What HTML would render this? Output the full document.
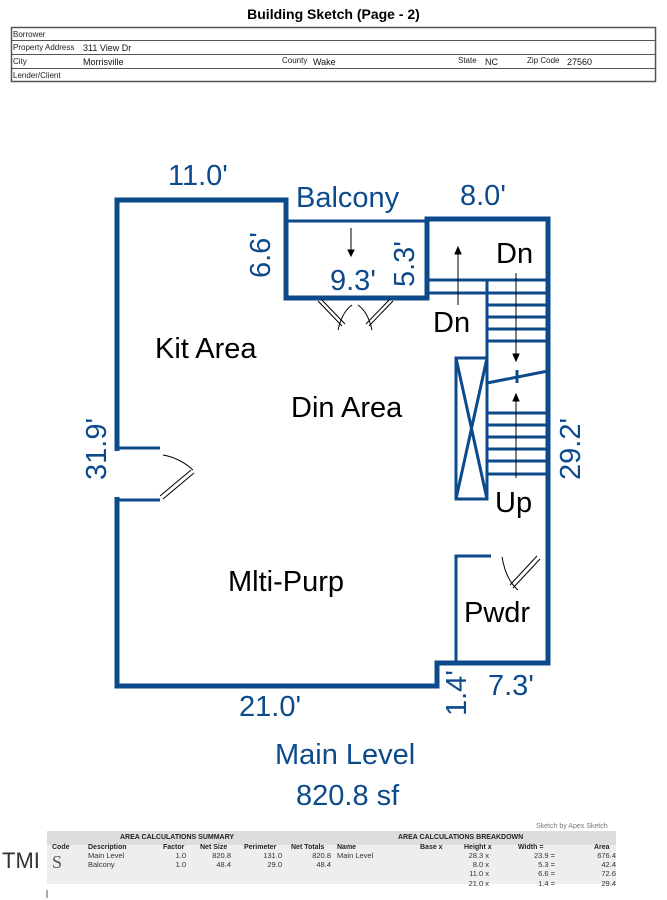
<!DOCTYPE html>
<html><head><style>
body{margin:0;width:667px;height:900px;background:#fff;position:relative;overflow:hidden;font-family:"Liberation Sans",sans-serif}
.t{position:absolute;white-space:nowrap}
</style></head><body>
<div class="t" style="left:0;width:667px;text-align:center;top:6px;font-weight:bold;font-size:14px;font-family:'Liberation Sans Narrow','Liberation Sans',sans-serif">Building Sketch (Page - 2)</div>
<svg width="667" height="900" style="position:absolute;left:0;top:0" font-family="Liberation Sans, sans-serif">
<rect x="11.5" y="27.5" width="644" height="54" fill="none" stroke="#555" stroke-width="1.5"/>
<g stroke="#555" stroke-width="1"><line x1="11" y1="40.5" x2="655" y2="40.5"/><line x1="11" y1="54.5" x2="655" y2="54.5"/><line x1="11" y1="68.5" x2="655" y2="68.5"/></g>
<g font-size="8" fill="#222"><text x="13" y="37">Borrower</text><text x="13" y="50">Property Address</text><text x="13" y="64">City</text><text x="13" y="78">Lender/Client</text><text x="282" y="63">County</text><text x="458" y="63">State</text><text x="527" y="63">Zip Code</text></g>
<g font-size="9" fill="#111"><text x="83" y="51">311 View Dr</text><text x="83" y="65">Morrisville</text><text x="313" y="65">Wake</text><text x="485" y="65">NC</text><text x="567" y="65">27560</text></g>

<g fill="none" stroke="#0d4a8c" stroke-width="5" stroke-linejoin="miter">
<polyline points="117,451 117,200 286,200 286,298 427,298 427,219 548,219 548,663 437,663 437,686 117,686 117,497"/>
</g>
<g fill="none" stroke="#0d4a8c" stroke-width="3">
<line x1="286" y1="221" x2="427" y2="221"/>
<line x1="427" y1="280" x2="548" y2="280"/><line x1="427" y1="293" x2="548" y2="293"/>
<line x1="487" y1="280" x2="487" y2="474"/>
<line x1="487" y1="305" x2="548" y2="305"/><line x1="487" y1="317" x2="548" y2="317"/><line x1="487" y1="329" x2="548" y2="329"/><line x1="487" y1="341" x2="548" y2="341"/>
<line x1="487" y1="383" x2="548" y2="371"/>
<line x1="487" y1="413" x2="548" y2="413"/><line x1="487" y1="425" x2="548" y2="425"/><line x1="487" y1="437" x2="548" y2="437"/><line x1="487" y1="449" x2="548" y2="449"/><line x1="487" y1="461" x2="548" y2="461"/><line x1="487" y1="474" x2="548" y2="474"/>
<line x1="517" y1="370" x2="517" y2="383"/>
<rect x="456" y="358" width="31" height="141"/>
<line x1="456" y1="358" x2="487" y2="499"/><line x1="487" y1="358" x2="456" y2="499"/>
<polyline points="491,556 456,556 456,663"/>
<line x1="116" y1="448" x2="160" y2="448"/><line x1="116" y1="500" x2="160" y2="500"/>
</g>
<g stroke="#000" stroke-width="1" fill="none">
<line x1="351" y1="228" x2="351" y2="254"/><path d="M348,250 L351,256 L354,250z" fill="#000"/>
<line x1="458" y1="305" x2="458" y2="250"/><path d="M455,254 L458,247 L461,254z" fill="#000"/>
<line x1="516" y1="273" x2="516" y2="358"/><path d="M513,354 L516,361 L519,354z" fill="#000"/>
<line x1="516" y1="478" x2="516" y2="397"/><path d="M513,401 L516,394 L519,401z" fill="#000"/>
<path d="M318,301 L342,326 M321,299 L345,324"/><path d="M393,301 L369,326 M390,299 L366,324"/>
<path d="M338,330 Q342,312 352,305 M372,330 Q368,312 358,305"/>
<path d="M160,496 L191,470 M163,499 L194,473"/><path d="M163,455 Q180,458 193,470"/>
<path d="M502,557 Q506,580 518,590"/><path d="M510,585 L537,556 M513,588 L540,559"/>
</g>
<g fill="#0d4a8c" font-size="29">
<text x="168" y="185">11.0'</text>
<text x="296" y="207">Balcony</text>
<text x="460" y="205">8.0'</text>
<text x="330" y="290">9.3'</text>
<text x="239" y="716">21.0'</text>
<text x="488" y="695">7.3'</text>
<text x="275" y="764">Main Level</text>
<text x="296" y="805">820.8 sf</text>
<text transform="translate(270,278) rotate(-90)">6.6'</text>
<text transform="translate(414,287) rotate(-90)">5.3'</text>
<text transform="translate(106,480) rotate(-90)">31.9'</text>
<text transform="translate(580,480) rotate(-90)">29.2'</text>
<text transform="translate(466,716) rotate(-90)">1.4'</text>
</g>
<g fill="#000" font-size="29">
<text x="155" y="358">Kit Area</text>
<text x="291" y="417">Din Area</text>
<text x="228" y="591">Mlti-Purp</text>
<text x="496" y="263">Dn</text>
<text x="433" y="332">Dn</text>
<text x="495" y="512">Up</text>
<text x="464" y="622">Pwdr</text>
</g>
<text x="536" y="828" font-size="7" fill="#777">Sketch by Apex Sketch</text>
<rect x="47" y="831" width="569" height="53" fill="#ddd"/>
<rect x="47" y="845" width="569" height="39" fill="#eee"/>
<g font-size="7" font-weight="bold" fill="#222"><text x="120" y="839">AREA CALCULATIONS SUMMARY</text><text x="398" y="839">AREA CALCULATIONS BREAKDOWN</text>
<text x="52" y="849">Code</text><text x="88" y="849">Description</text><text x="163" y="849">Factor</text><text x="200" y="849">Net Size</text><text x="244" y="849">Perimeter</text><text x="291" y="849">Net Totals</text><text x="337" y="849">Name</text><text x="420" y="849">Base x</text><text x="464" y="849">Height x</text><text x="518" y="849">Width =</text><text x="594" y="849">Area</text></g>
<g font-size="7.5" fill="#333" text-anchor="end">
<text x="186" y="858">1.0</text><text x="231" y="858">820.8</text><text x="282" y="858">131.0</text><text x="331" y="858">820.8</text>
<text x="186" y="867">1.0</text><text x="231" y="867">48.4</text><text x="282" y="867">29.0</text><text x="331" y="867">48.4</text>
<text x="489" y="858">28.3 x</text><text x="489" y="867">8.0 x</text><text x="489" y="876">11.0 x</text><text x="489" y="886">21.0 x</text>
<text x="555" y="858">23.9 =</text><text x="555" y="867">5.3 =</text><text x="555" y="876">6.6 =</text><text x="555" y="886">1.4 =</text>
<text x="616" y="858">676.4</text><text x="616" y="867">42.4</text><text x="616" y="876">72.6</text><text x="616" y="886">29.4</text>
</g>
<g font-size="7.5" fill="#333"><text x="88" y="858">Main Level</text><text x="88" y="867">Balcony</text><text x="337" y="858">Main Level</text></g>
<text x="52" y="868" font-size="18" fill="#555" font-family="Liberation Serif, serif">S</text>
<text x="2" y="868" font-size="22" fill="#333">TMI</text>
<line x1="47" y1="890" x2="47" y2="898" stroke="#555"/>
</svg>
</body></html>
